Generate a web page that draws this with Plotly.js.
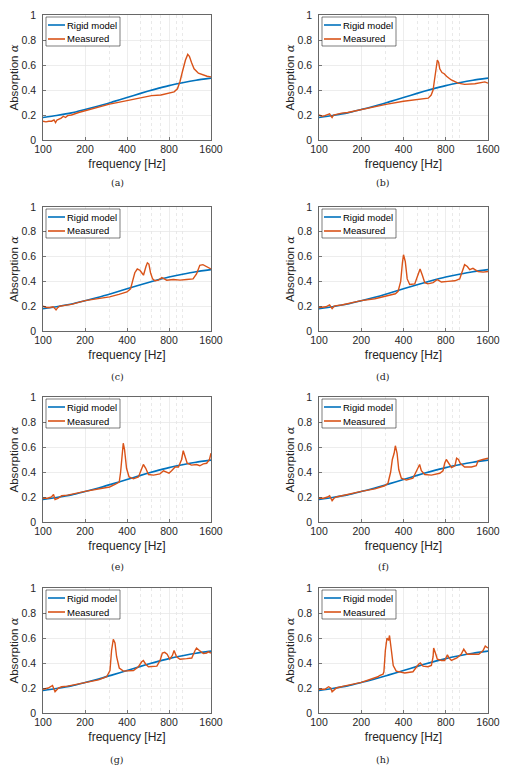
<!DOCTYPE html>
<html>
<head>
<meta charset="utf-8">
<script src="https://cdn.plot.ly/plotly-3.0.1.min.js"></script>
<style>
html,body{margin:0;padding:0;background:#fff;}
#chart{width:510px;height:772px;}
</style>
</head>
<body>
<div id="chart"></div>
<script>
// ---- data ----
const freqRigid = [100,125,160,200,250,315,400,500,630,800,1000,1250,1600];
const alphaRigid = [0.18,0.196,0.217,0.244,0.272,0.305,0.34,0.373,0.405,0.435,0.458,0.478,0.495];

const freqA = [100,105,110,115,120,123,126,130,135,140,145,150,160,180,200,250,300,400,500,600,700,800,870,920,960,1000,1050,1090,1120,1160,1210,1300,1400,1500,1600];
const alphaA = [0.15,0.145,0.15,0.15,0.16,0.14,0.16,0.165,0.175,0.19,0.18,0.195,0.2,0.22,0.235,0.265,0.287,0.315,0.34,0.355,0.36,0.375,0.385,0.41,0.47,0.55,0.64,0.685,0.67,0.62,0.57,0.535,0.52,0.51,0.505];

const freqB = [100,105,110,115,119,122,124,127,132,137,145,160,200,250,300,400,500,600,630,650,665,680,697,712,725,752,780,810,877,979,1090,1290,1470,1520,1600];
const alphaB = [0.2,0.19,0.195,0.2,0.21,0.19,0.18,0.2,0.205,0.21,0.215,0.22,0.245,0.265,0.285,0.31,0.325,0.335,0.36,0.4,0.48,0.58,0.64,0.62,0.57,0.54,0.53,0.51,0.48,0.455,0.445,0.45,0.46,0.465,0.455];

const freqC = [100,106,112,118,122,124,128,132,140,160,200,250,300,350,400,424,443,455,474,495,510,525,547,560,574,590,610,635,673,710,740,770,860,960,1070,1190,1260,1330,1400,1490,1600];
const alphaC = [0.2,0.19,0.19,0.195,0.18,0.17,0.19,0.2,0.205,0.215,0.245,0.26,0.275,0.295,0.315,0.34,0.43,0.47,0.5,0.49,0.47,0.45,0.52,0.55,0.54,0.47,0.42,0.405,0.41,0.43,0.42,0.41,0.415,0.41,0.415,0.42,0.46,0.53,0.535,0.52,0.5];

const freqD = [100,106,112,119,124,128,133,145,160,200,250,300,350,366,382,393,400,412,425,443,481,506,525,545,567,597,650,697,745,829,928,1005,1060,1090,1140,1185,1250,1290,1360,1475,1600];
const alphaD = [0.19,0.19,0.195,0.21,0.18,0.2,0.205,0.21,0.22,0.245,0.26,0.28,0.3,0.32,0.4,0.55,0.615,0.56,0.42,0.375,0.38,0.45,0.5,0.45,0.39,0.38,0.39,0.415,0.395,0.4,0.405,0.42,0.5,0.535,0.52,0.495,0.505,0.495,0.48,0.475,0.48];

const freqE = [100,108,115,119,122,126,129,136,150,200,250,300,328,352,360,371,376,384,397,414,445,483,510,524,545,570,620,689,730,770,800,835,885,935,985,1012,1035,1080,1160,1260,1330,1410,1490,1560,1600];
const alphaE = [0.19,0.19,0.2,0.22,0.18,0.185,0.19,0.21,0.215,0.245,0.265,0.28,0.3,0.32,0.4,0.55,0.63,0.58,0.43,0.36,0.345,0.36,0.42,0.46,0.43,0.38,0.375,0.385,0.41,0.4,0.39,0.41,0.44,0.44,0.5,0.57,0.54,0.47,0.455,0.46,0.45,0.465,0.47,0.5,0.55];

const freqF = [100,108,115,119,124,128,133,145,200,250,294,310,324,333,343,350,360,370,386,419,467,506,521,536,567,632,725,765,786,807,847,880,930,956,985,1015,1090,1220,1320,1360,1470,1600];
const alphaF = [0.19,0.19,0.2,0.21,0.17,0.19,0.2,0.21,0.245,0.265,0.29,0.31,0.4,0.5,0.55,0.61,0.55,0.42,0.35,0.335,0.35,0.43,0.46,0.41,0.38,0.375,0.39,0.41,0.47,0.5,0.46,0.435,0.45,0.51,0.5,0.47,0.44,0.44,0.45,0.49,0.5,0.51];

const freqG = [100,109,117,122,129,136,150,200,250,286,302,310,319,328,337,352,377,445,483,510,524,545,570,655,690,717,745,776,810,846,870,906,960,1070,1165,1230,1260,1320,1410,1490,1530,1600];
const alphaG = [0.19,0.2,0.22,0.17,0.2,0.21,0.215,0.245,0.265,0.29,0.34,0.5,0.59,0.56,0.45,0.36,0.335,0.34,0.37,0.41,0.42,0.39,0.37,0.375,0.42,0.48,0.485,0.47,0.43,0.46,0.5,0.45,0.43,0.435,0.44,0.5,0.52,0.5,0.475,0.48,0.49,0.48];

const freqH = [100,110,117,121,124,129,133,150,200,263,270,286,290,297,305,313,318,328,338,355,408,467,493,512,527,551,597,632,650,656,675,697,745,786,822,845,878,960,1030,1075,1135,1220,1290,1375,1475,1530,1600];
const alphaH = [0.19,0.19,0.21,0.2,0.17,0.19,0.2,0.215,0.245,0.29,0.3,0.31,0.33,0.5,0.6,0.58,0.62,0.5,0.38,0.335,0.32,0.33,0.37,0.39,0.4,0.375,0.37,0.38,0.45,0.52,0.48,0.43,0.42,0.42,0.465,0.44,0.42,0.44,0.47,0.51,0.47,0.47,0.475,0.47,0.5,0.535,0.52];

const panelLabels = ['(a)','(b)','(c)','(d)','(e)','(f)','(g)','(h)'];
const seriesNames = ['Rigid model','Measured'];
const xTickVals = [100,200,400,800,1600];
const xMinorVals = [300,500,600,700,900,1000];
const yTickVals = [0,0.2,0.4,0.6,0.8,1];
const yTickText = ['0','0.2','0.4','0.6','0.8','1'];

const measured = [[freqA,alphaA],[freqB,alphaB],[freqC,alphaC],[freqD,alphaD],[freqE,alphaE],[freqF,alphaF],[freqG,alphaG],[freqH,alphaH]];

// ---- layout geometry (pixels) ----
const W = 510, H = 772;
const colX = [[43,211],[319,488]];
const rowY = [[15,140],[207,331],[397,522],[588,713]];
const captionY = [183,377,566,759];
const captionX = [117,383];

const BLUE = '#0072BD', ORANGE = '#D95319', AX = '#262626';
const seriesColors = [BLUE, ORANGE];
const FONT = 'Liberation Sans, Arial, Helvetica, sans-serif';

const px = v => v / W;          // pixel -> paper x
const py = v => 1 - v / H;      // pixel -> paper y

const data = [];
const layout = {
  width: W, height: H,
  margin: {l:0, r:0, t:0, b:0},
  paper_bgcolor: '#fff', plot_bgcolor: '#fff',
  showlegend: false,
  annotations: [],
  shapes: [],
  font: {family: FONT, color: AX}
};

for (let i = 0; i < 8; i++) {
  const col = i % 2, row = Math.floor(i / 2);
  const sfx = i === 0 ? '' : String(i + 1);
  const xa = 'x' + sfx, ya = 'y' + sfx;
  data.push({x: freqRigid, y: alphaRigid, xaxis: xa, yaxis: ya, type: 'scatter', mode: 'lines',
    name: seriesNames[0], line: {color: BLUE, width: 1.6, shape: 'spline', smoothing: 0.6}});
  data.push({x: measured[i][0], y: measured[i][1], xaxis: xa, yaxis: ya, type: 'scatter', mode: 'lines',
    name: seriesNames[1], line: {color: ORANGE, width: 1.4}});

  const [x0, x1] = colX[col];
  const [yt, yb] = rowY[row];
  layout['xaxis' + sfx] = {
    domain: [px(x0), px(x1)], anchor: ya, type: 'log',
    range: [2, Math.log10(1600)],
    tickmode: 'array', tickvals: xTickVals, ticktext: xTickVals.map(String),
    ticks: 'inside', ticklen: 3, tickcolor: AX, tickwidth: 0.6,
    showline: true, mirror: true, linecolor: AX, linewidth: 0.7,
    showgrid: true, gridcolor: '#e6e6e6', gridwidth: 0.7,
    minor: {tickmode: 'array', tickvals: xMinorVals, showgrid: true, gridcolor: '#e0e0e0', gridwidth: 0.7, griddash: 'dot', ticks: ''},
    zeroline: false,
    tickfont: {family: FONT, size: 10.5, color: AX},
    title: {text: 'frequency [Hz]', font: {family: FONT, size: 12, color: AX}, standoff: 5}
  };
  layout['yaxis' + sfx] = {
    domain: [py(yb), py(yt)], anchor: xa,
    range: [0, 1],
    tickmode: 'array', tickvals: yTickVals, ticktext: yTickText,
    ticks: 'inside', ticklen: 3, tickcolor: AX, tickwidth: 0.6,
    showline: true, mirror: true, linecolor: AX, linewidth: 0.7,
    showgrid: true, gridcolor: '#e6e6e6', gridwidth: 0.7,
    zeroline: false,
    tickfont: {family: FONT, size: 10.5, color: AX},
    ticklabelstandoff: 4,
    title: {text: 'Absorption <span style="font-family:DejaVu Serif"><i>α</i></span>', font: {family: FONT, size: 11.5, color: AX}, standoff: 0}
  };

  // MATLAB-style legend box (top-left inside each axes)
  const lx = x0 + 3, ly = yt + 2;
  layout.shapes.push({type: 'rect', xref: 'paper', yref: 'paper', layer: 'above',
    x0: px(lx), x1: px(lx + 74), y0: py(ly + 29), y1: py(ly),
    line: {color: AX, width: 0.6}, fillcolor: '#fff'});
  seriesNames.forEach(function (nm, k) {
    const cy = ly + 8 + 14 * k;
    layout.shapes.push({type: 'line', xref: 'paper', yref: 'paper', layer: 'above',
      x0: px(lx + 2), x1: px(lx + 19), y0: py(cy), y1: py(cy),
      line: {color: seriesColors[k], width: 1.6}});
    layout.annotations.push({text: nm, xref: 'paper', yref: 'paper',
      x: px(lx + 20), y: py(cy), xanchor: 'left', yanchor: 'middle', showarrow: false,
      font: {family: FONT, size: 9.5, color: '#000'}, borderpad: 0});
  });

  layout.annotations.push({
    text: panelLabels[i], xref: 'paper', yref: 'paper',
    x: px(captionX[col]), y: py(captionY[row]), xanchor: 'center', yanchor: 'middle',
    showarrow: false, font: {family: 'DejaVu Serif, Liberation Serif, serif', size: 9.5, color: '#222'}
  });
}

Plotly.newPlot('chart', data, layout, {displayModeBar: false, staticPlot: true});
</script>
</body>
</html>
